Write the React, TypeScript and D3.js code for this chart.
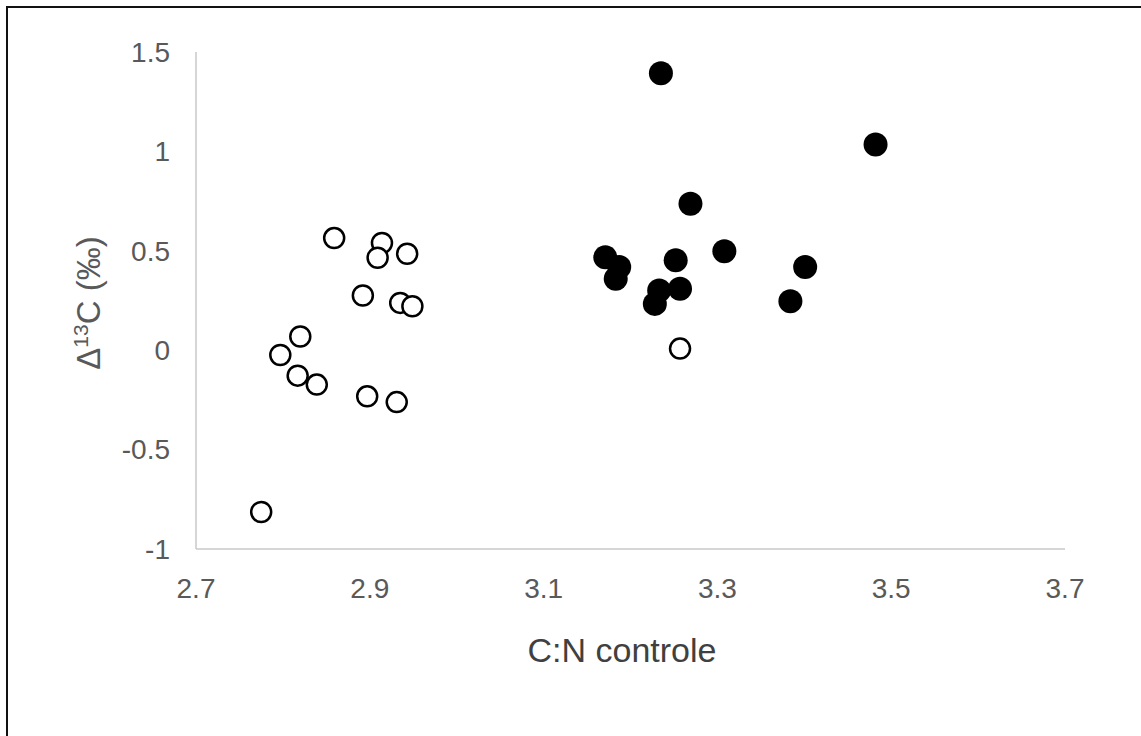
import * as d3 from 'd3';
import React from 'react';

// C:N vs delta 13C
const openCN = [2.859, 2.914, 2.909, 2.943, 2.892, 2.935, 2.949, 2.820, 2.797, 2.817, 2.839, 2.897, 2.931, 2.775, 3.257];
const openD13C = [0.564, 0.539, 0.465, 0.485, 0.275, 0.238, 0.221, 0.069, -0.024, -0.128, -0.173, -0.232, -0.261, -0.814, 0.008];

const filledCN = [3.235, 3.482, 3.269, 3.171, 3.187, 3.183, 3.252, 3.308, 3.401, 3.384, 3.228, 3.233, 3.257];
const filledD13C = [1.393, 1.035, 0.737, 0.468, 0.418, 0.359, 0.452, 0.498, 0.418, 0.246, 0.233, 0.300, 0.309];

const xTicks = [2.7, 2.9, 3.1, 3.3, 3.5, 3.7];
const yTicks = [-1, -0.5, 0, 0.5, 1, 1.5];

const W = 1141;
const H = 736;
const font = '"Liberation Sans", Arial, sans-serif';

const App = () => {
    const x = d3.scaleLinear().domain([2.7, 3.7]).range([196, 1065]);
    const y = d3.scaleLinear().domain([-1, 1.5]).range([549, 52]);

    const open = openCN.map((v, i) => ({ x: v, y: openD13C[i] }));
    const filled = filledCN.map((v, i) => ({ x: v, y: filledD13C[i] }));

    return (
        <svg width={W} height={H} style={{ position: 'absolute', left: 0, top: 0, background: '#fff' }}>
            {/* frame: only top and left edges show */}
            <line x1={6} y1={7} x2={W} y2={7} stroke="#111" strokeWidth={2} />
            <line x1={7} y1={6} x2={7} y2={H} stroke="#111" strokeWidth={2} />

            {/* axes */}
            <line x1={x(2.7)} y1={y(-1)} x2={x(3.7)} y2={y(-1)} stroke="#c8c8c8" strokeWidth={1.5} />
            <line x1={x(2.7)} y1={y(-1)} x2={x(2.7)} y2={y(1.5)} stroke="#c8c8c8" strokeWidth={1.5} />

            {yTicks.map(t => (
                <text key={'y' + t} x={170} y={y(t)} dy="0.35em" textAnchor="end"
                    fontFamily={font} fontSize={28} fill="#595959">{String(t)}</text>
            ))}
            {xTicks.map(t => (
                <text key={'x' + t} x={x(t)} y={598} textAnchor="middle"
                    fontFamily={font} fontSize={28} fill="#595959">{t.toFixed(1)}</text>
            ))}

            <text x={622} y={662} textAnchor="middle" fontFamily={font} fontSize={34} fill="#404040">C:N controle</text>

            <text transform="translate(100,303) rotate(-90)" textAnchor="middle" fontFamily={font} fontSize={33} fill="#595959">
                Δ<tspan fontSize={21} dy={-12}>13</tspan><tspan dy={12}>C (‰)</tspan>
            </text>

            {open.map((d, i) => (
                <circle key={'o' + i} cx={x(d.x)} cy={y(d.y)} r={10} fill="#fff" stroke="#000" strokeWidth={2.5} />
            ))}
            {filled.map((d, i) => (
                <circle key={'f' + i} cx={x(d.x)} cy={y(d.y)} r={12} fill="#000" />
            ))}
        </svg>
    );
};

export default App;
